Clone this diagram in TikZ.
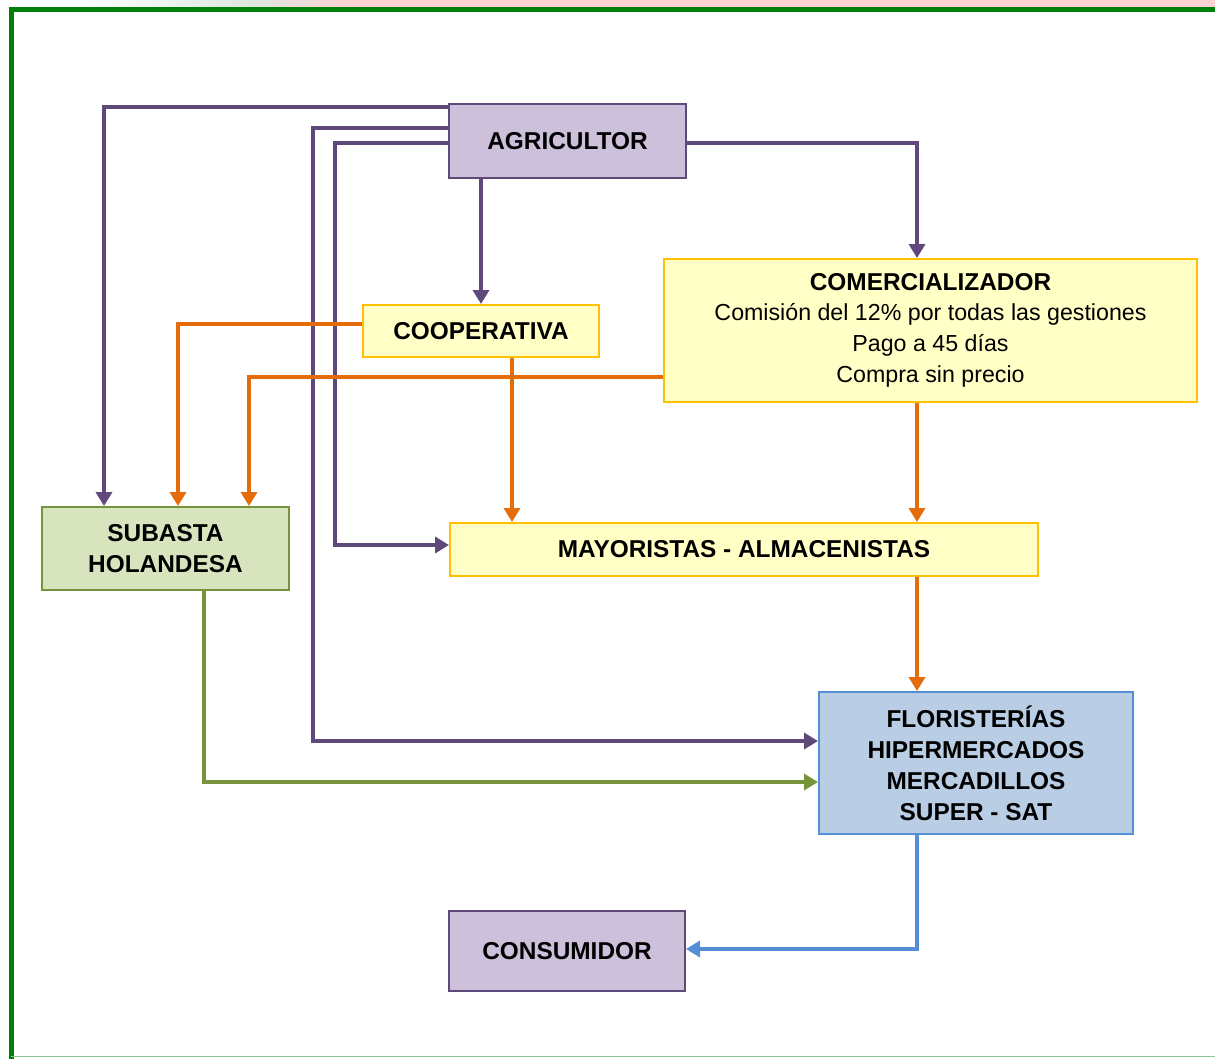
\documentclass[tikz,border=0pt]{standalone}
\usepackage{fontspec}
\setmainfont{Liberation Sans}
\usetikzlibrary{arrows.meta}

\definecolor{frameGreen}{HTML}{00800A}
\definecolor{purLine}{HTML}{5F497A}
\definecolor{purFill}{HTML}{CCC0DA}
\definecolor{oraLine}{HTML}{E46C0A}
\definecolor{yelFill}{HTML}{FFFFC6}
\definecolor{yelLine}{HTML}{FFC000}
\definecolor{grnLine}{HTML}{77933C}
\definecolor{grnFill}{HTML}{D7E4BD}
\definecolor{bluLine}{HTML}{558ED5}
\definecolor{bluFill}{HTML}{B9CDE5}
\definecolor{stripPink}{HTML}{FCD2D2}
\definecolor{stripGreen}{HTML}{DDE8DF}

\newcommand{\plainline}{\fontsize{23.2}{31}\selectfont\mdseries}

\tikzset{
  box/.style={draw, line width=2pt, anchor=north west, align=center,
    inner sep=0pt, font=\fontsize{24.4}{31}\selectfont\bfseries},
  purbox/.style={box, draw=purLine, fill=purFill},
  yelbox/.style={box, draw=yelLine, fill=yelFill},
  grnbox/.style={box, draw=grnLine, fill=grnFill},
  blubox/.style={box, draw=bluLine, fill=bluFill},
  link/.style={line width=3.5pt,
    -{Triangle[width=16pt,length=14pt]}},
  purlink/.style={link, draw=purLine},
  oralink/.style={link, draw=oraLine},
  grnlink/.style={link, draw=grnLine},
  blulink/.style={link, draw=bluLine},
}

\begin{document}
\begin{tikzpicture}[x=1pt,y=1pt]
  \useasboundingbox (0,0) rectangle (1215,-1058);
  \fill[white] (0,0) rectangle (1215,-1058);

  % tinted strip above the frame
  \shade[left color=white, right color=stripGreen] (80,0) rectangle (250,-7);
  \shade[left color=stripGreen, right color=stripPink] (250,0) rectangle (350,-7);
  \fill[stripPink] (350,0) rectangle (1215,-7);

  % frame
  \draw[frameGreen, line width=5pt] (11,-1060) -- (11,-9) -- (1220,-9);
  \draw[frameGreen!45, line width=1.5pt] (11,-1056.5) -- (1220,-1056.5);

  % boxes
  \node[purbox, minimum width=237, minimum height=74] (agr) at (448,-103) {AGRICULTOR};
  \node[yelbox, minimum width=533, minimum height=143] (com) at (663,-258)
    {\raisebox{-2pt}{COMERCIALIZADOR}\\[1pt]
     \plainline Comisión del 12\% por todas las gestiones\\
     \plainline Pago a 45 días\\
     \plainline Compra sin precio};
  \node[yelbox, minimum width=236, minimum height=52] (coop) at (362,-304) {COOPERATIVA};
  \node[grnbox, minimum width=247, minimum height=83] (sub) at (41,-506) {SUBASTA\\HOLANDESA};
  \node[yelbox, minimum width=588, minimum height=53] (may) at (449,-522) {MAYORISTAS - ALMACENISTAS};
  \node[blubox, minimum width=314, minimum height=142] (flo) at (818,-691)
    {FLORISTERÍAS\\HIPERMERCADOS\\MERCADILLOS\\SUPER - SAT};
  \node[purbox, minimum width=236, minimum height=80] (con) at (448,-910) {CONSUMIDOR};

  % flows leaving the grower
  \draw[purlink] (agr.west |- 0,-107) -| (sub.north -| 104,0);
  \draw[purlink] (agr.west |- 0,-128) -| (313,-741) -- (flo.west |- 0,-741);
  \draw[purlink] (agr.west |- 0,-143) -| (335,-545) -- (may.west |- 0,-545);
  \draw[purlink] (agr.south -| 481,0) -- (coop.north -| 481,0);
  \draw[purlink] (agr.east |- 0,-143) -| (com.north -| 917,0);

  % flows from cooperative and trader
  \draw[oralink] (coop.west |- 0,-324) -| (sub.north -| 178,0);
  \draw[oralink] (com.west |- 0,-377) -| (sub.north -| 249,0);
  \draw[oralink] (coop.south -| 512,0) -- (may.north -| 512,0);
  \draw[oralink] (com.south -| 917,0) -- (may.north -| 917,0);
  \draw[oralink] (may.south -| 917,0) -- (flo.north -| 917,0);

  % auction to retail, retail to consumer
  \draw[grnlink] (sub.south -| 204,0) |- (flo.west |- 0,-782);
  \draw[blulink] (flo.south -| 917,0) |- (con.east |- 0,-949);
\end{tikzpicture}
\end{document}
